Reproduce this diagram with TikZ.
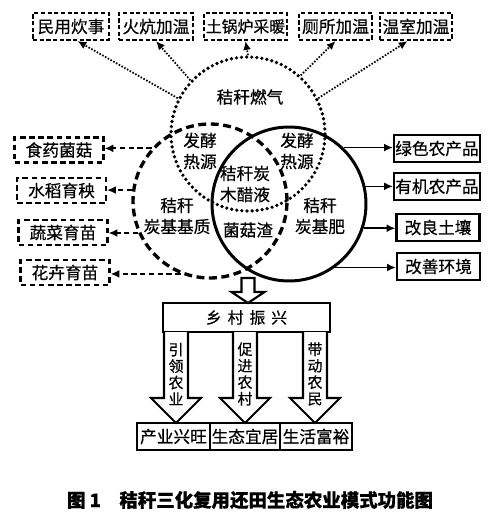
\documentclass[tikz,border=0pt]{standalone}
\usepackage{fontspec}
\setmainfont{Noto Sans CJK SC}[FakeBold=0.5]
\usetikzlibrary{arrows.meta}

\begin{document}
\begin{tikzpicture}[
    x=0.02cm, y=-0.02cm,
    every node/.style={font=\fontsize{9.5}{12}\selectfont},
    gasbox/.style={draw, line width=1.2pt, dash pattern=on 2.4pt off 1.4pt, minimum height=0.54cm, inner xsep=1pt, inner ysep=0pt},
    usebox/.style={draw, line width=1.2pt, dash pattern=on 3.2pt off 2pt, minimum width=1.78cm, minimum height=0.5cm, inner sep=0pt},
    outbox/.style={draw, line width=1.3pt, minimum width=1.72cm, minimum height=0.54cm, inner sep=0pt},
    goal/.style={draw, line width=1.1pt, minimum height=0.54cm, inner sep=0pt},
    ring/.style={circle, draw, minimum size=3.08cm, inner sep=0pt, line width=1.7pt},
    inlabel/.style={align=center, inner sep=1pt},
    dotarrow/.style={-{Latex[length=5pt,width=4.5pt]}, line width=1pt, dash pattern=on 0.9pt off 0.9pt},
    dasharrow/.style={-{Latex[length=5pt,width=4.5pt]}, line width=1.2pt, dash pattern=on 3pt off 2pt},
    arrow/.style={-{Latex[length=5pt,width=4.5pt]}, line width=0.9pt},
    hollow/.style={draw, line width=1.2pt, fill=white}
]
    \useasboundingbox (0,0) rectangle (500,517);

    % Three rings
    \node[ring, line width=2.1pt, dash pattern=on 0pt off 2.9pt, line cap=round] (gas) at (248,134) {};
    \node[ring, line width=1.9pt, dash pattern=on 4.5pt off 2.6pt] (substrate) at (210,201) {};
    \node[ring] (fert) at (289,204) {};

    % Ring texts
    \node[inlabel] (gaslabel) at (250,97) {秸秆燃气};
    \node[inlabel] (heatl) at (200,151) {发酵\\热源};
    \node[inlabel] (heatr) at (297,151) {发酵\\热源};
    \node[inlabel] (vinegar) at (245,184) {秸秆炭\\木醋液};
    \node[inlabel] (substratelabel) at (177,216) {秸秆\\炭基基质};
    \node[inlabel] (residue) at (248,230) {菌菇渣};
    \node[inlabel] (fertlabel) at (320,216) {秸秆\\炭基肥};

    % Gas uses
    \node[gasbox, minimum width=1.52cm] (cook) at (71,26.5) {民用炊事};
    \node[gasbox, minimum width=1.48cm] (kang) at (156,26.5) {火炕加温};
    \node[gasbox, minimum width=1.66cm, font=\fontsize{9}{11}\selectfont] (boiler) at (245.5,26.5) {土锅炉采暖};
    \node[gasbox, minimum width=1.46cm] (toilet) at (335.5,26.5) {厕所加温};
    \node[gasbox, minimum width=1.44cm] (greenhouse) at (416,26.5) {温室加温};

    % Substrate uses
    \node[usebox] (fungi) at (59,150) {食药菌菇};
    \node[usebox] (rice) at (61.5,190.5) {水稻育秧};
    \node[usebox] (veggie) at (63,232.5) {蔬菜育苗};
    \node[usebox] (flower) at (65,272.5) {花卉育苗};

    % Fertilizer uses
    \node[outbox] (green) at (437,148.5) {绿色农产品};
    \node[outbox] (organic) at (437,186.5) {有机农产品};
    \node[outbox, minimum width=1.66cm] (soil) at (438,227.5) {改良土壤};
    \node[outbox, minimum width=1.66cm] (environ) at (438.5,266.5) {改善环境};

    % Arrows
    \draw[dotarrow] (gas.153) -- (cook.-66);
    \draw[dotarrow] (gas.137) -- (kang.south);
    \draw[dotarrow] (gas.north) -- (boiler.south);
    \draw[dotarrow] (gas.48) -- (toilet.south);
    \draw[dotarrow] (gas.27) -- (greenhouse.-120);

    \draw[dasharrow] (substrate.138) -- (substrate.138 -| fungi.east);
    \draw[dasharrow] (substrate.172) -- (substrate.172 -| rice.east);
    \draw[dasharrow] (substrate.204) -- (substrate.204 -| veggie.east);
    \draw[dasharrow] (substrate.248) -- (substrate.248 -| flower.east);

    \draw[arrow] (fert.46) -- (fert.46 -| green.west);
    \draw[arrow] (fert.13) -- (fert.13 -| organic.west);
    \draw[arrow] (fert.342) -- (fert.342 -| soil.west);
    \draw[arrow] (fert.306) -- (fert.306 -| environ.west);

    % Rural revitalization
    \draw[hollow] (241.5,278) -- (254.5,278) -- (254.5,292) -- (264.5,292) -- (248,303) -- (231.5,292) -- (241.5,292) -- cycle;
    \node[goal, minimum width=3.34cm, minimum height=0.58cm, font=\fontsize{9}{11}\selectfont] (rural) at (246.5,317.5) {乡\hspace{3.4pt}村\hspace{3.4pt}振\hspace{3.4pt}兴};

    \foreach \x/\name/\txt in {176/lead/{引\\领\\农\\业}, 245/push/{促\\进\\农\\村}, 315/drive/{带\\动\\农\\民}} {
        \draw[hollow] (\x-12,332) -- (\x-12,398) -- (\x-25,398) -- (\x,423) -- (\x+25,398) -- (\x+12,398) -- (\x+12,332);
        \node[align=center, inner sep=0pt, font=\fontsize{8.5}{9.4}\selectfont] (\name) at (\x,374) {\txt};
    }

    \node[goal, minimum width=1.46cm] (industry) at (173.5,436.5) {产业兴旺};
    \node[goal, minimum width=1.40cm] (ecology) at (245,436.5) {生态宜居};
    \node[goal, minimum width=1.44cm] (wealth) at (316,436.5) {生活富裕};

    % Caption
    \node[font=\fontsize{10.5}{12}\selectfont\bfseries] (caption) at (250,500) {图 1\quad 秸秆三化复用还田生态农业模式功能图};
\end{tikzpicture}
\end{document}
